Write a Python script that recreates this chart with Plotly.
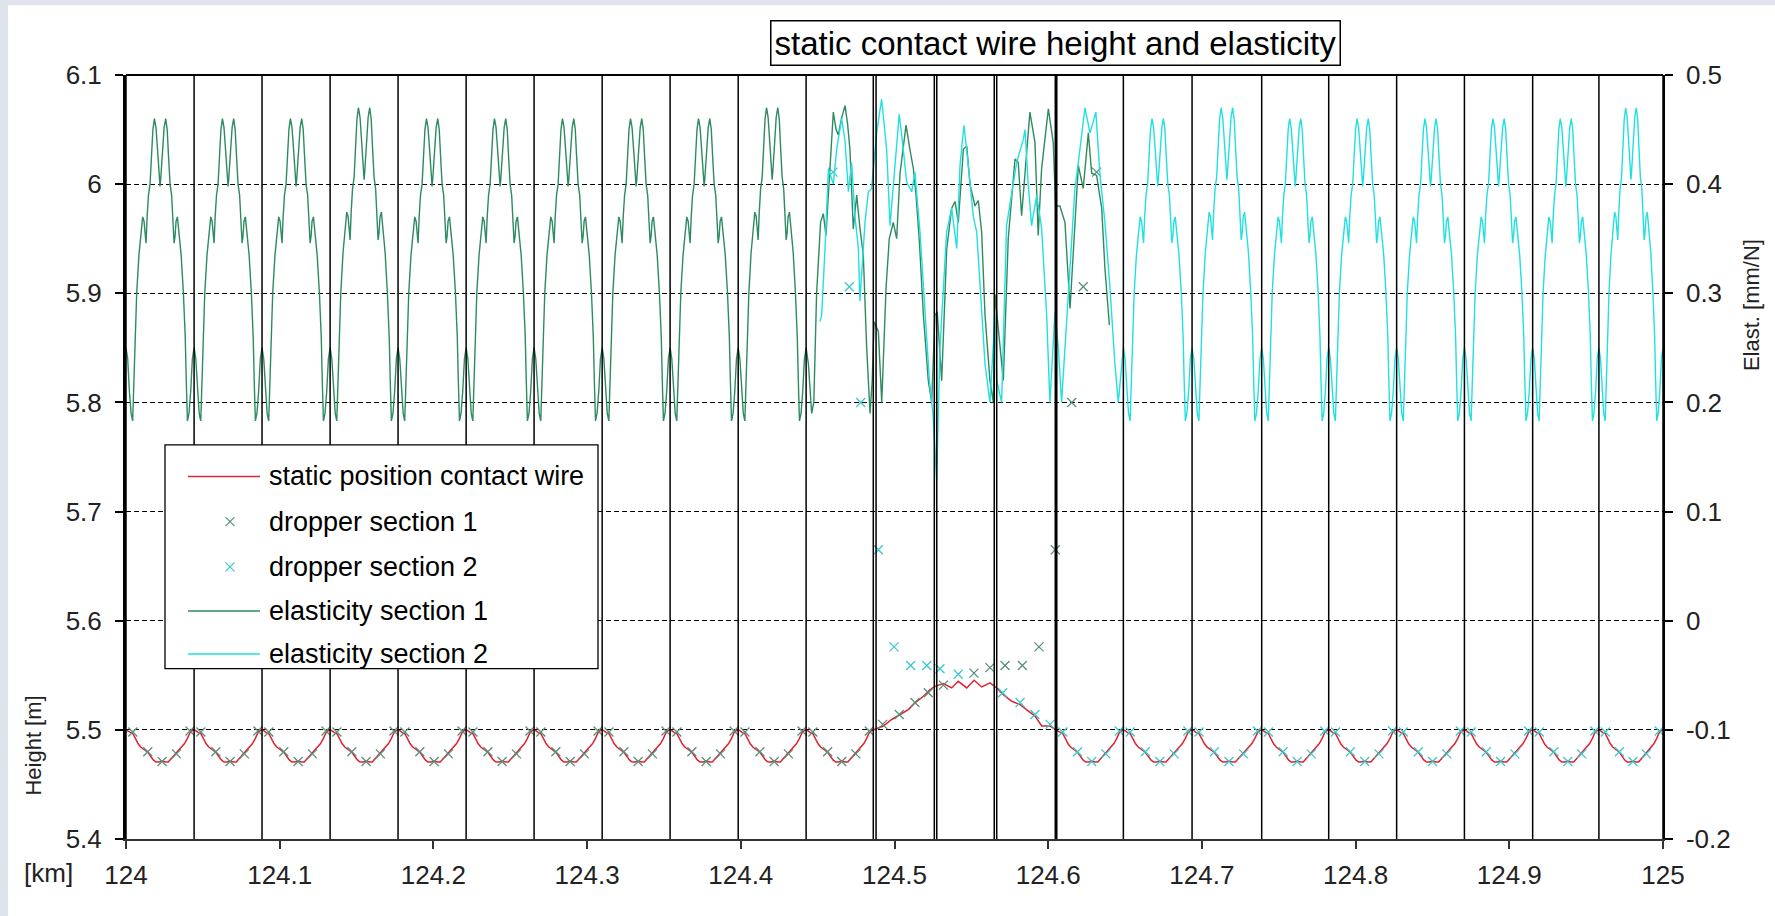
import plotly.graph_objects as go

# ---------------- data ----------------
KM0 = 124.0
X_TICKS = [124.0, 124.1, 124.2, 124.3, 124.4, 124.5, 124.6, 124.7, 124.8, 124.9, 125.0]
X_TICK_TEXT = ["124", "124.1", "124.2", "124.3", "124.4", "124.5", "124.6", "124.7", "124.8", "124.9", "125"]
H_TICKS = [5.4, 5.5, 5.6, 5.7, 5.8, 5.9, 6.0, 6.1]
H_TICK_TEXT = ["5.4", "5.5", "5.6", "5.7", "5.8", "5.9", "6", "6.1"]
E_TICKS = [-0.2, -0.1, 0.0, 0.1, 0.2, 0.3, 0.4, 0.5]
E_TICK_TEXT = ["-0.2", "-0.1", "0", "0.1", "0.2", "0.3", "0.4", "0.5"]

# mast positions (km offset from 124)
MASTS_S1 = [0.0, 0.0443, 0.0885, 0.1328, 0.1770, 0.2213, 0.2655, 0.3098, 0.3540, 0.3983, 0.4425]
MASTS_OVERLAP = [0.4862, 0.4880, 0.5259, 0.5275, 0.5649, 0.5665]
MAST_CHANGE = [0.6051]
MASTS_S2 = [0.6051, 0.6489, 0.6936, 0.7389, 0.7825, 0.8267, 0.8708, 0.9152, 0.9583, 1.0]

# elasticity shape of one ordinary span (fraction of span, mm/N)
ELAST_FRAC = [0.0, 0.025, 0.05, 0.075, 0.098, 0.115, 0.13, 0.157, 0.19, 0.225, 0.245, 0.265, 0.28,
              0.294, 0.31, 0.33, 0.353, 0.375, 0.395, 0.417, 0.44, 0.465, 0.49, 0.5, 0.51, 0.535,
              0.56, 0.583, 0.605, 0.625, 0.647, 0.67, 0.69, 0.706, 0.72, 0.735, 0.755, 0.775, 0.81,
              0.843, 0.87, 0.885, 0.902, 0.925, 0.95, 0.975, 1.0]
ELAST_VAL = [0.25, 0.24, 0.21, 0.19, 0.183, 0.22, 0.26, 0.30, 0.335, 0.356, 0.370, 0.366, 0.352,
             0.346, 0.370, 0.390, 0.400, 0.425, 0.450, 0.460, 0.452, 0.430, 0.405, 0.398, 0.405, 0.430,
             0.452, 0.460, 0.450, 0.425, 0.400, 0.390, 0.370, 0.346, 0.352, 0.366, 0.370, 0.356, 0.335,
             0.300, 0.26, 0.22, 0.183, 0.19, 0.21, 0.24, 0.25]
PEAK_S1 = [0.46, 0.46, 0.46, 0.47, 0.46, 0.46, 0.46, 0.46, 0.46, 0.47]
PEAK_S2 = [0.46, 0.47, 0.46, 0.46, 0.46, 0.46, 0.46, 0.47]   # spans from 0.6489

# elasticity in the overlap section
E1_OVL_X = [0.4440, 0.4461, 0.4475, 0.4493, 0.4519, 0.4537, 0.4554, 0.4576, 0.4602, 0.4620, 0.4634,
            0.4655, 0.4678, 0.4695, 0.4710, 0.4732, 0.4754, 0.4775, 0.4797, 0.4819, 0.4841, 0.4855,
            0.4867, 0.4895, 0.4917, 0.4945, 0.4966, 0.4992, 0.5014, 0.5036, 0.5075, 0.5100, 0.5123,
            0.5140, 0.5162, 0.5188, 0.5220, 0.5242, 0.5263, 0.5278, 0.5307, 0.5340, 0.5372, 0.5394,
            0.5415, 0.5448, 0.5470, 0.5491, 0.5524, 0.5545, 0.5567, 0.5589, 0.5621, 0.5643, 0.5654,
            0.5708, 0.5740, 0.5784, 0.5805, 0.5827, 0.5881, 0.5914, 0.5935, 0.5957, 0.6001, 0.6033,
            0.6048, 0.6076, 0.6109, 0.6142, 0.6174, 0.6196, 0.6228, 0.6261, 0.6283, 0.6315, 0.6348,
            0.6369, 0.6398]
E1_OVL_Y = [0.235, 0.19, 0.20, 0.299, 0.365, 0.373, 0.353, 0.40, 0.466, 0.45, 0.445,
            0.46, 0.472, 0.455, 0.432, 0.359, 0.39, 0.36, 0.335, 0.25, 0.19, 0.22,
            0.274, 0.265, 0.20, 0.305, 0.35, 0.365, 0.35, 0.41, 0.454, 0.432, 0.414,
            0.39, 0.347, 0.28, 0.22, 0.20, 0.28, 0.283, 0.22, 0.341, 0.378, 0.384,
            0.365, 0.432, 0.435, 0.40, 0.38, 0.385, 0.356, 0.28, 0.22, 0.20, 0.299,
            0.22, 0.35, 0.423, 0.42, 0.371, 0.466, 0.438, 0.353, 0.414, 0.469, 0.438,
            0.38, 0.38, 0.365, 0.286, 0.37, 0.417, 0.396, 0.447, 0.41, 0.408, 0.378,
            0.323, 0.271]
E2_OVL_X = [0.4515, 0.4526, 0.4548, 0.4570, 0.4602, 0.4624, 0.4656, 0.4678, 0.4700, 0.4721, 0.4743,
            0.4765, 0.4775, 0.4808, 0.4830, 0.4851, 0.4884, 0.4916, 0.4949, 0.4971, 0.5003, 0.5031,
            0.5057, 0.5079, 0.5112, 0.5133, 0.5166, 0.5198, 0.5227, 0.5250, 0.5274, 0.5296, 0.5318,
            0.5339, 0.5372, 0.5405, 0.5426, 0.5452, 0.5480, 0.5513, 0.5535, 0.5556, 0.5589, 0.5621,
            0.5654, 0.5665, 0.5697, 0.5729, 0.5762, 0.5795, 0.5838, 0.5849, 0.5870, 0.5892, 0.5925,
            0.5957, 0.5990, 0.6011, 0.6044, 0.6066, 0.6087, 0.6142, 0.6174, 0.6196, 0.6239, 0.6272,
            0.6310, 0.6337, 0.6369, 0.6402, 0.6434, 0.6456]
E2_OVL_Y = [0.274, 0.28, 0.341, 0.414, 0.40, 0.432, 0.46, 0.44, 0.393, 0.42, 0.37,
            0.341, 0.293, 0.365, 0.393, 0.396, 0.447, 0.478, 0.432, 0.362, 0.417, 0.464,
            0.432, 0.402, 0.393, 0.411, 0.356, 0.28, 0.22, 0.19, 0.129, 0.25, 0.311,
            0.356, 0.378, 0.341, 0.417, 0.454, 0.417, 0.37, 0.356, 0.31, 0.235, 0.20,
            0.28, 0.22, 0.20, 0.362, 0.39, 0.42, 0.441, 0.45, 0.40, 0.362, 0.39,
            0.36, 0.28, 0.20, 0.283, 0.25, 0.20, 0.323, 0.396, 0.42, 0.47, 0.447,
            0.466, 0.408, 0.365, 0.305, 0.235, 0.20]

# static contact wire height, one ordinary span (fraction, m)
WIRE_FRAC = [0.0, 0.03, 0.06, 0.1, 0.14, 0.18, 0.22, 0.27, 0.32, 0.36, 0.40, 0.44, 0.48, 0.53,
             0.58, 0.62, 0.66, 0.70, 0.74, 0.78, 0.82, 0.86, 0.90, 0.94, 0.97, 1.0]
WIRE_H = [5.5, 5.499, 5.4975, 5.4965, 5.492, 5.487, 5.484, 5.4815, 5.4795, 5.476, 5.4725, 5.4705,
          5.4705, 5.4715, 5.4705, 5.4705, 5.4735, 5.4765, 5.4785, 5.4815, 5.4845, 5.4875, 5.492,
          5.4975, 5.4992, 5.5]
WIRE_SPANS_LEFT = [0.0, 0.0443, 0.0885, 0.1328, 0.1770, 0.2213, 0.2655, 0.3098, 0.3540, 0.3983,
                   0.4425, 0.4862]
WIRE_OVL_X = [0.4927, 0.4982, 0.5036, 0.5090, 0.5133, 0.5188, 0.5231, 0.5264, 0.5318, 0.5372,
              0.5415, 0.5470, 0.5518, 0.5567, 0.5622, 0.5665, 0.5708, 0.5763, 0.5817, 0.5860,
              0.5914, 0.5958, 0.6012]
WIRE_OVL_H = [5.5035, 5.5095, 5.514, 5.5186, 5.5247, 5.5308, 5.5369, 5.5399, 5.5424, 5.5384,
              5.5445, 5.5384, 5.5454, 5.5393, 5.543, 5.5384, 5.5323, 5.5262, 5.5232, 5.5186,
              5.5126, 5.5035, 5.5035]

# droppers of an ordinary span (fraction, m)
DROP_FRAC = [0.1, 0.32, 0.53, 0.74, 0.94]
DROP_H = [5.498, 5.480, 5.471, 5.478, 5.499]
DROP1_OVL_X = [0.4923, 0.5031, 0.5133, 0.5220, 0.5318, 0.5517, 0.5621, 0.5719, 0.5832, 0.5940,
               0.6046, 0.6153, 0.6228, 0.6315]
DROP1_OVL_H = [5.505, 5.514, 5.525, 5.534, 5.541, 5.552, 5.557, 5.559, 5.559, 5.576,
               5.665, 5.800, 5.906, 6.011]
DROP2_OVL_X = [0.4600, 0.4706, 0.4780, 0.4895, 0.4997, 0.5105, 0.5210, 0.5296, 0.5415, 0.5704,
               0.5817, 0.5914, 0.6012]
DROP2_OVL_H = [6.011, 5.906, 5.800, 5.665, 5.576, 5.559, 5.559, 5.556, 5.551, 5.534,
               5.525, 5.514, 5.505]

LEGEND_NAMES = ["static position contact wire", "dropper section 1", "dropper section 2",
                "elasticity section 1", "elasticity section 2"]

# ---------------- styles ----------------
RED = "#dc2430"
GREEN = "#2e8b60"
CYAN = "#22e0e0"
DROP1_C = "#5a8f7c"
DROP2_C = "#3cc8cc"
FONT = "Liberation Sans, Arial, sans-serif"

W, H = 1775, 916
L, R, T, B = 126, 1663, 74.7, 839.5


def px(x):
    return (x - L) / (R - L)


def py(y):
    return (B - y) / (B - T)


def spans(masts, frac, vals, peaks=None):
    xs, ys = [], []
    for i in range(len(masts) - 1):
        a, b = masts[i], masts[i + 1]
        for j, (f, v) in enumerate(zip(frac, vals)):
            if i > 0 and j == 0:
                continue
            if peaks is not None:
                v = v + (peaks[i] - 0.46) * max(0.0, (v - 0.3) / 0.16)
            xs.append(KM0 + a + f * (b - a))
            ys.append(v)
    return xs, ys


def points(masts, frac, vals):
    xs, ys = [], []
    for i in range(len(masts) - 1):
        a, b = masts[i], masts[i + 1]
        for f, v in zip(frac, vals):
            xs.append(KM0 + a + f * (b - a))
            ys.append(v)
    return xs, ys


# wire
wx, wy = spans(WIRE_SPANS_LEFT, WIRE_FRAC, WIRE_H)
wx += [KM0 + v for v in WIRE_OVL_X]
wy += WIRE_OVL_H
sx, sy = spans(MASTS_S2, WIRE_FRAC, WIRE_H)
wx += sx
wy += sy

# droppers
d1x, d1y = points(WIRE_SPANS_LEFT, DROP_FRAC, DROP_H)
d1x += [KM0 + v for v in DROP1_OVL_X]
d1y += DROP1_OVL_H
d2x = [KM0 + v for v in DROP2_OVL_X]
d2y = list(DROP2_OVL_H)
tx, ty = points(MASTS_S2, DROP_FRAC, DROP_H)
d2x += tx
d2y += ty

# elasticity
e1x, e1y = spans(MASTS_S1, ELAST_FRAC, ELAST_VAL, PEAK_S1)
e1x += [KM0 + v for v in E1_OVL_X]
e1y += E1_OVL_Y
e2x = [KM0 + v for v in E2_OVL_X]
e2y = list(E2_OVL_Y)
tx, ty = spans(MASTS_S2[1:], ELAST_FRAC, ELAST_VAL, PEAK_S2)
e2x += tx
e2y += ty

fig = go.Figure()
fig.add_trace(go.Scatter(x=e1x, y=e1y, mode="lines", line=dict(color=GREEN, width=1.4),
                         yaxis="y2", name=LEGEND_NAMES[3], showlegend=False))
fig.add_trace(go.Scatter(x=e2x, y=e2y, mode="lines", line=dict(color=CYAN, width=1.4),
                         yaxis="y2", name=LEGEND_NAMES[4], showlegend=False))
fig.add_trace(go.Scatter(x=wx, y=wy, mode="lines", line=dict(color=RED, width=1.5),
                         name=LEGEND_NAMES[0], showlegend=False))
fig.add_trace(go.Scatter(x=d1x, y=d1y, mode="markers", name=LEGEND_NAMES[1], showlegend=False,
                         marker=dict(symbol="x-thin", size=9, line=dict(color=DROP1_C, width=1.3))))
fig.add_trace(go.Scatter(x=d2x, y=d2y, mode="markers", name=LEGEND_NAMES[2], showlegend=False,
                         marker=dict(symbol="x-thin", size=9, line=dict(color=DROP2_C, width=1.3))))

shapes = []
# outer page strip
shapes.append(dict(type="rect", xref="paper", yref="paper", x0=px(8), x1=px(W + 5), y0=py(H + 5), y1=py(5),
                   fillcolor="white", line=dict(width=0), layer="below"))
for m in MASTS_S1 + MASTS_OVERLAP + MASTS_S2:
    shapes.append(dict(type="line", xref="x", yref="paper", x0=KM0 + m, x1=KM0 + m, y0=0, y1=1,
                       line=dict(color="black", width=1.5)))
for m in MAST_CHANGE:
    shapes.append(dict(type="line", xref="x", yref="paper", x0=KM0 + m, x1=KM0 + m, y0=0, y1=1,
                       line=dict(color="black", width=3)))
# top border
shapes.append(dict(type="line", xref="paper", yref="paper", x0=0, x1=1, y0=1, y1=1,
                   line=dict(color="black", width=2)))

# manual legend (pixel positions)
LG_L, LG_T, LG_R, LG_B = 165, 445, 598, 669
shapes.append(dict(type="rect", xref="paper", yref="paper", x0=px(LG_L), x1=px(LG_R), y0=py(LG_B), y1=py(LG_T),
                   fillcolor="white", line=dict(color="black", width=1.3)))
rows = [476.6, 521.8, 567.1, 611.3, 654.3]
SX0, SX1, TX = 188, 260, 267
for ri, col in ((0, RED), (3, GREEN), (4, CYAN)):
    shapes.append(dict(type="line", xref="paper", yref="paper", x0=px(SX0), x1=px(SX1),
                       y0=py(rows[ri]), y1=py(rows[ri]), line=dict(color=col, width=1.5)))
CX = (SX0 + SX1) / 2 + 6
for ri, col in ((1, DROP1_C), (2, DROP2_C)):
    cy = rows[ri]
    shapes.append(dict(type="line", xref="paper", yref="paper", x0=px(CX - 4.5), x1=px(CX + 4.5),
                       y0=py(cy - 4.5), y1=py(cy + 4.5), line=dict(color=col, width=1.3)))
    shapes.append(dict(type="line", xref="paper", yref="paper", x0=px(CX - 4.5), x1=px(CX + 4.5),
                       y0=py(cy + 4.5), y1=py(cy - 4.5), line=dict(color=col, width=1.3)))

annotations = []
for name, ry in zip(LEGEND_NAMES, rows):
    annotations.append(dict(text=name, xref="paper", yref="paper", x=px(TX), y=py(ry), xanchor="left",
                            yanchor="middle", showarrow=False, font=dict(size=27, color="black", family=FONT)))
annotations.append(dict(text="static contact wire height and elasticity", xref="paper", yref="paper",
                        x=px(1055), y=py(43), xanchor="center", yanchor="middle", showarrow=False,
                        font=dict(size=33, color="black", family=FONT), bordercolor="black", borderwidth=1.5,
                        borderpad=3, bgcolor="white"))
annotations.append(dict(text="Height [m]", xref="paper", yref="paper", x=px(34), y=py(746), textangle=-90,
                        xanchor="center", yanchor="middle", showarrow=False,
                        font=dict(size=22, color="#222", family=FONT)))
annotations.append(dict(text="Elast. [mm/N]", xref="paper", yref="paper", x=px(1751), y=py(305), textangle=-90,
                        xanchor="center", yanchor="middle", showarrow=False,
                        font=dict(size=22, color="#222", family=FONT)))
annotations.append(dict(text="[km]", xref="paper", yref="paper", x=px(48), y=py(874),
                        xanchor="center", yanchor="middle", showarrow=False,
                        font=dict(size=26, color="#222", family=FONT)))

tickfont = dict(size=26, color="#222", family=FONT)
fig.update_layout(
    width=W, height=H,
    margin=dict(l=L, r=W - R, t=T, b=H - B, autoexpand=False),
    paper_bgcolor="#dfe4ea", plot_bgcolor="white",
    showlegend=False,
    shapes=shapes, annotations=annotations,
    xaxis=dict(range=[124, 125], tickvals=X_TICKS, ticktext=X_TICK_TEXT, ticks="outside", ticklen=8,
               tickwidth=1.5, tickcolor="#333", showline=True, linecolor="#333", linewidth=2,
               showgrid=False, zeroline=False, tickfont=tickfont, ticklabelstandoff=4),
    yaxis=dict(range=[5.4, 6.1], tickvals=H_TICKS, ticktext=H_TICK_TEXT, ticks="outside", ticklen=8,
               tickwidth=1.5, tickcolor="black", showline=True, linecolor="black", linewidth=3,
               showgrid=True, gridcolor="black", griddash="5px,3px", gridwidth=1.3, zeroline=False,
               tickfont=tickfont, ticklabelstandoff=8),
    yaxis2=dict(range=[-0.2, 0.5], tickvals=E_TICKS, ticktext=E_TICK_TEXT, overlaying="y", side="right",
                ticks="outside", ticklen=8, tickwidth=1.5, tickcolor="black", showline=True,
                linecolor="black", linewidth=1.5, showgrid=False, zeroline=False, tickfont=tickfont,
                ticklabelstandoff=8),
)
fig.write_html("out.html")
